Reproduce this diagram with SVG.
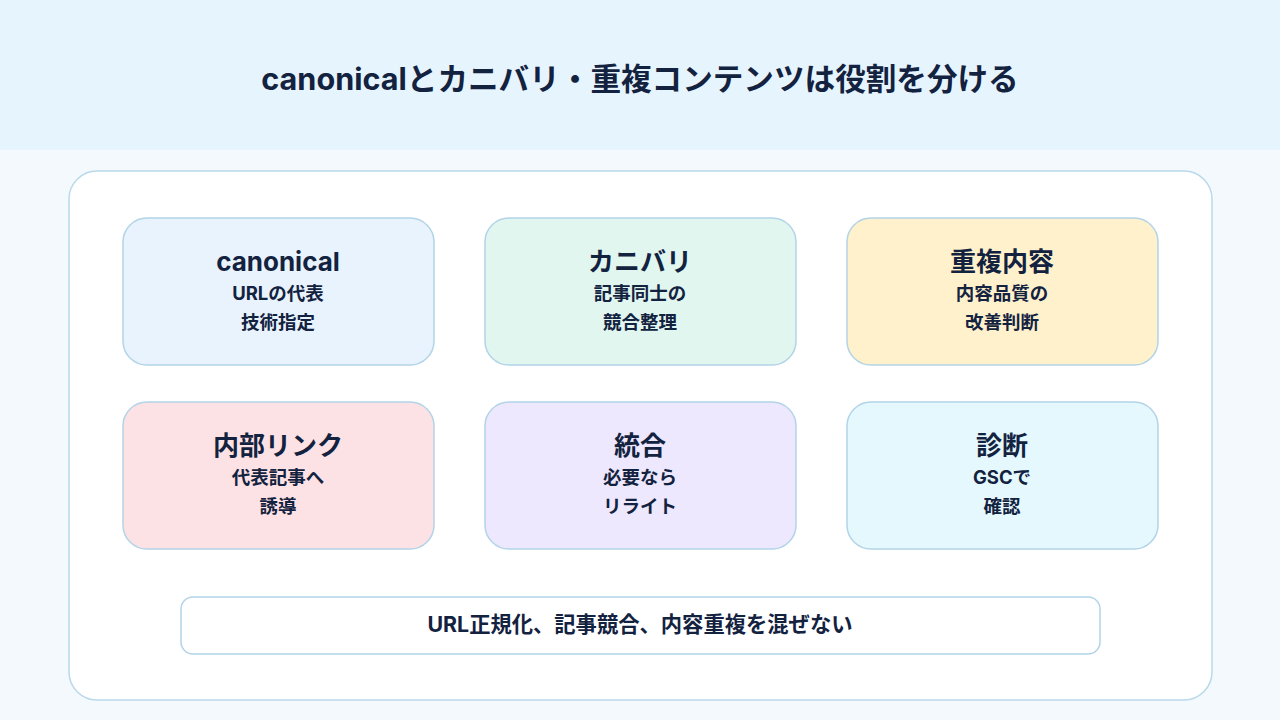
<svg xmlns="http://www.w3.org/2000/svg" width="1280" height="720" viewBox="0 0 1280 720">
<style>
text{font-family:Inter,"Noto Sans CJK JP",sans-serif;font-weight:700;fill:#13223f;text-anchor:middle}
.t{font-size:26px}.s{font-size:18.5px}
.n{stroke:#b3d4e8;stroke-width:1.5}
</style>
<rect width="1280" height="720" fill="#f4f9fd"/>
<rect width="1280" height="150" fill="#e6f4fe"/>
<text x="640" y="90" font-size="30.6">canonicalとカニバリ・重複コンテンツは役割を分ける</text>
<rect x="69" y="171" width="1143" height="529" rx="28" fill="#fff" stroke="#b9d9ea" stroke-width="1.5"/>
<g id="connectors"/>
<g id="n1"><rect class="n" x="123" y="218" width="311" height="147" rx="24" fill="#e8f3fd"/><text class="t" x="278" y="271">canonical</text><text class="s" x="278" y="300">URLの代表</text><text class="s" x="278" y="329">技術指定</text></g>
<g id="n2"><rect class="n" x="485" y="218" width="311" height="147" rx="24" fill="#e0f6ef"/><text class="t" x="640" y="271">カニバリ</text><text class="s" x="640" y="300">記事同士の</text><text class="s" x="640" y="329">競合整理</text></g>
<g id="n3"><rect class="n" x="847" y="218" width="311" height="147" rx="24" fill="#fef1cc"/><text class="t" x="1002" y="271">重複内容</text><text class="s" x="1002" y="300">内容品質の</text><text class="s" x="1002" y="329">改善判断</text></g>
<g id="n4"><rect class="n" x="123" y="402" width="311" height="147" rx="24" fill="#fde2e5"/><text class="t" x="278" y="455">内部リンク</text><text class="s" x="278" y="484">代表記事へ</text><text class="s" x="278" y="513">誘導</text></g>
<g id="n5"><rect class="n" x="485" y="402" width="311" height="147" rx="24" fill="#ede8fd"/><text class="t" x="640" y="455">統合</text><text class="s" x="640" y="484">必要なら</text><text class="s" x="640" y="513">リライト</text></g>
<g id="n6"><rect class="n" x="847" y="402" width="311" height="147" rx="24" fill="#e4f8fd"/><text class="t" x="1002" y="455">診断</text><text class="s" x="1002" y="484">GSCで</text><text class="s" x="1002" y="513">確認</text></g>
<g id="n7"><rect class="n" x="181" y="597" width="919" height="57" rx="12" fill="#fff"/><text x="640" y="632" font-size="21.3">URL正規化、記事競合、内容重複を混ぜない</text></g>
</svg>
